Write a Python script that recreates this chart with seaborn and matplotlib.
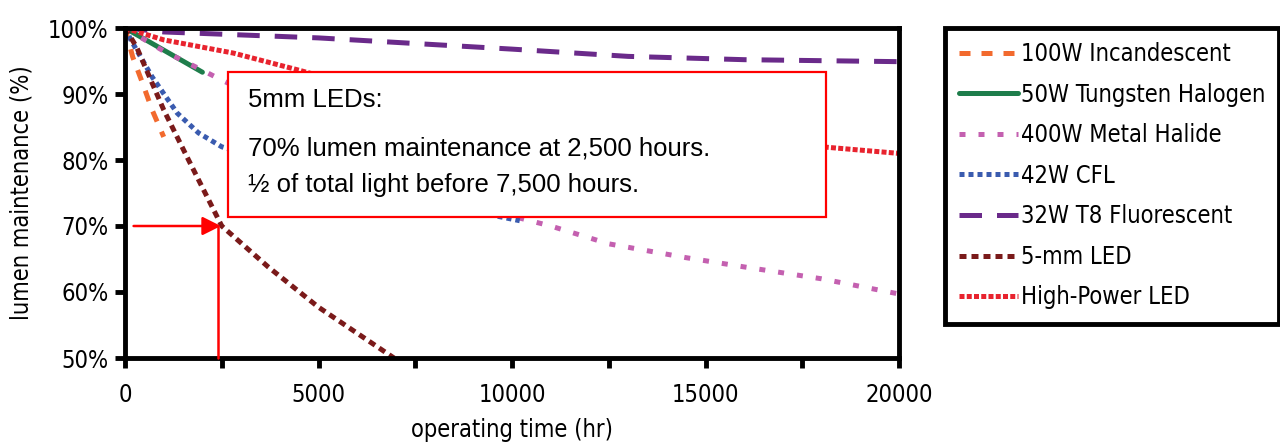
import seaborn as sns
import matplotlib.pyplot as plt
import matplotlib.patches as mpatches
import pandas as pd

# values (hours, % lumen maintenance)
incandescent_hr = [0, 200, 450, 700, 1000]
incandescent = [100, 95.6, 91.7, 87.6, 83.5]
halogen_hr = [0, 2000]
halogen = [100, 93.3]
halide_hr = [0, 1000, 2000, 2500, 4000, 6000, 8000, 10000, 11000, 12500, 14500, 16000, 18000, 20000]
halide = [100, 96.5, 93.6, 92.1, 88, 82, 76.5, 71.5, 70, 67.3, 65.2, 63.8, 62, 59.7]
cfl_hr = [0, 150, 700, 1350, 1900, 2500, 5000, 7500, 10200]
cfl = [100, 98.2, 92.6, 87.1, 84.1, 82, 77.5, 74, 70.8]
t8_hr = [0, 1000, 5000, 10000, 13000, 16000, 20000]
t8 = [100, 99.4, 98.5, 96.8, 95.7, 95.2, 94.9]
led5_hr = [0, 300, 1000, 1600, 2500, 3700, 5000, 6950]
led5 = [100, 97.1, 87.6, 80.5, 70, 63.8, 57.7, 50]
hpled_hr = [0, 1000, 2800, 4500, 6000, 8000, 10000, 12000, 14000, 16000, 18000, 20000]
hpled = [100, 98.2, 96.2, 93.6, 91.2, 88.8, 86.8, 85.2, 84, 83, 82, 81]

names = ["100W Incandescent", "50W Tungsten Halogen", "400W Metal Halide", "42W CFL",
         "32W T8 Fluorescent", "5-mm LED", "High-Power LED"]
colors = ["#F26A2E", "#1E7D4B", "#C460B0", "#3A5BAF", "#6A2A8A", "#7A1A1A", "#E8232E"]
dashes = [(2.2, 2.2), "", (1.2, 2.6), (1.0, 0.8), (4.5, 3.0), (1.4, 1.0), (1.0, 0.45)]

series = [(incandescent_hr, incandescent), (halogen_hr, halogen), (halide_hr, halide),
          (cfl_hr, cfl), (t8_hr, t8), (led5_hr, led5), (hpled_hr, hpled)]
rows = []
for name, (hrs, vals) in zip(names, series):
    for h, v in zip(hrs, vals):
        rows.append({"hours": h, "maint": v, "lamp": name})
df = pd.DataFrame(rows)

sns.set_style("white")
plt.rcParams['font.family'] = ['DejaVu Sans']
plt.rcParams['font.stretch'] = 'condensed'
plt.rcParams['text.color'] = 'black'
plt.rcParams['axes.labelcolor'] = 'black'
plt.rcParams['xtick.color'] = 'black'
plt.rcParams['ytick.color'] = 'black'
fig = plt.figure(figsize=(12.8, 4.45), dpi=100)
ax = fig.add_axes([125 / 1280, 1 - 358 / 445, 774 / 1280, 330 / 445])

sns.lineplot(data=df, x="hours", y="maint", hue="lamp", style="lamp", hue_order=names,
             style_order=names, palette=dict(zip(names, colors)),
             dashes=dict(zip(names, dashes)), linewidth=3.6, sort=False, ax=ax, zorder=2)

ax.set_xlim(0, 20000)
ax.set_ylim(50, 100)
ax.set_xticks(range(0, 20001, 2500))
ax.set_xticklabels([str(t) if t % 5000 == 0 else "" for t in range(0, 20001, 2500)])
ax.set_yticks(range(50, 101, 10))
ax.set_yticklabels([f"{t}%" for t in range(50, 101, 10)])
ax.tick_params(axis="both", bottom=True, left=True, length=7, width=3.5, labelsize=17,
               color="black", direction="out")
ax.tick_params(axis="x", pad=11)
ax.tick_params(axis="y", pad=5)
for s in ax.spines.values():
    s.set_linewidth(3.5)
    s.set_color("black")
ax.set_xlabel("operating time (hr)", fontsize=17, labelpad=8)
ax.set_ylabel("lumen maintenance (%)", fontsize=17, labelpad=10)

# annotation box
box = mpatches.Rectangle((2650, 71.4), 15470, 21.9, facecolor="white", edgecolor="red",
                         linewidth=1.6, zorder=4)
ax.add_patch(box)
arial = ['Liberation Sans', 'DejaVu Sans']
for y, s in [(89.1, "5mm LEDs:"), (81.8, "70% lumen maintenance at 2,500 hours."),
             (76.2, "\u00bd of total light before 7,500 hours.")]:
    ax.text(3170, y, s, fontsize=18.5, family=arial, fontstretch='normal', va="center",
            zorder=5)

# red pointer to 70% at 2,500 hours
ax.plot([2400, 2400], [50, 70], color="red", linewidth=1.8, zorder=5, clip_on=False)
ax.annotate("", xy=(2550, 70), xytext=(150, 70),
            arrowprops=dict(arrowstyle="-|>", color="red", lw=1.8, mutation_scale=28),
            zorder=5)

handles, labels = ax.get_legend_handles_labels()
ax.get_legend().remove()
for h in handles:
    h.set_linewidth(3.6)
leg = fig.legend(handles, labels, loc="upper left", bbox_to_anchor=(945 / 1280, 1 - 28 / 445),
                 fontsize=17, frameon=True, fancybox=False, framealpha=1,
                 handlelength=2.5, handletextpad=0.1, labelspacing=0.7, borderpad=0.6,
                 borderaxespad=0)
leg.get_frame().set_linewidth(3.5)
leg.get_frame().set_edgecolor("black")

plt.savefig("out.png", dpi=100)
